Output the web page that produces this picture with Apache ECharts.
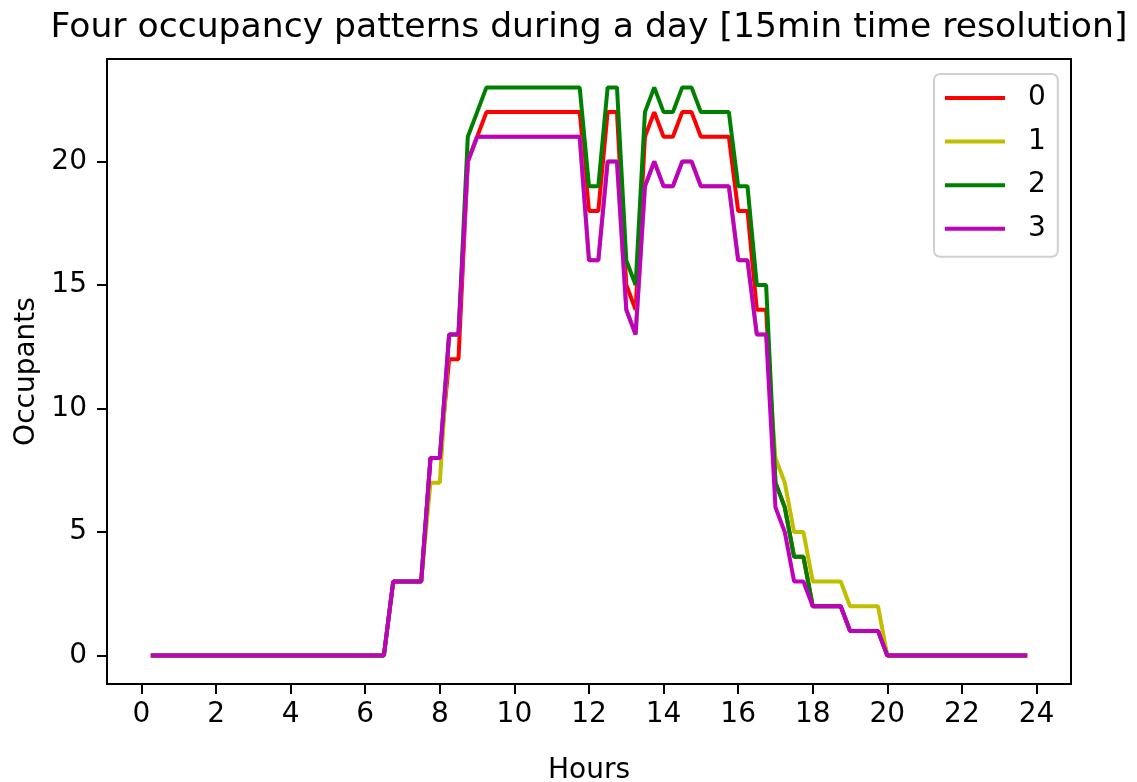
<!DOCTYPE html>
<html><head><meta charset="utf-8">
<script src="https://cdn.jsdelivr.net/npm/echarts@6/dist/echarts.min.js"></script>
<style>html,body{margin:0;padding:0;background:#fff}#c{width:1137px;height:782px}</style>
</head><body><div id="c"></div>
<script>
const TITLE = 'Four occupancy patterns during a day [15min time resolution]';
const X_NAME = 'Hours';
const Y_NAME = 'Occupants';
const SERIES_NAMES = ['0', '1', '2', '3'];
const SERIES_COLORS = ['#ff0000', '#bfbf00', '#008000', '#bf00bf'];
const X_TICKS = [0, 2, 4, 6, 8, 10, 12, 14, 16, 18, 20, 22, 24];
const Y_TICKS = [0, 5, 10, 15, 20];

const HOURS = [
  0.25, 0.5, 0.75, 1, 1.25, 1.5, 1.75, 2, 2.25, 2.5, 2.75, 3,
  3.25, 3.5, 3.75, 4, 4.25, 4.5, 4.75, 5, 5.25, 5.5, 5.75, 6,
  6.25, 6.5, 6.75, 7, 7.25, 7.5, 7.75, 8, 8.25, 8.5, 8.75, 9,
  9.25, 9.5, 9.75, 10, 10.25, 10.5, 10.75, 11, 11.25, 11.5, 11.75, 12,
  12.25, 12.5, 12.75, 13, 13.25, 13.5, 13.75, 14, 14.25, 14.5, 14.75, 15,
  15.25, 15.5, 15.75, 16, 16.25, 16.5, 16.75, 17, 17.25, 17.5, 17.75, 18,
  18.25, 18.5, 18.75, 19, 19.25, 19.5, 19.75, 20, 20.25, 20.5, 20.75, 21,
  21.25, 21.5, 21.75, 22, 22.25, 22.5, 22.75, 23, 23.25, 23.5, 23.75
];

const OCC_0 = [
  0,0,0,0, 0,0,0,0, 0,0,0,0, 0,0,0,0, 0,0,0,0, 0,0,0,0,
  0,0,3,3, 3,3,8,8, 12,12,20,21, 22,22,22,22, 22,22,22,22, 22,22,22,18,
  18,22,22,15, 14,21,22,21, 21,22,22,21, 21,21,21,18, 18,14,14,7, 6,4,4,2,
  2,2,2,1, 1,1,1,0, 0,0,0,0, 0,0,0,0, 0,0,0,0, 0,0,0
];
const OCC_1 = [
  0,0,0,0, 0,0,0,0, 0,0,0,0, 0,0,0,0, 0,0,0,0, 0,0,0,0,
  0,0,3,3, 3,3,7,7, 13,13,20,21, 21,21,21,21, 21,21,21,21, 21,21,21,16,
  16,20,20,14, 13,19,20,19, 19,20,20,19, 19,19,19,16, 16,13,13,8, 7,5,5,3,
  3,3,3,2, 2,2,2,0, 0,0,0,0, 0,0,0,0, 0,0,0,0, 0,0,0
];
const OCC_2 = [
  0,0,0,0, 0,0,0,0, 0,0,0,0, 0,0,0,0, 0,0,0,0, 0,0,0,0,
  0,0,3,3, 3,3,8,8, 13,13,21,22, 23,23,23,23, 23,23,23,23, 23,23,23,19,
  19,23,23,16, 15,22,23,22, 22,23,23,22, 22,22,22,19, 19,15,15,7, 6,4,4,2,
  2,2,2,1, 1,1,1,0, 0,0,0,0, 0,0,0,0, 0,0,0,0, 0,0,0
];
const OCC_3 = [
  0,0,0,0, 0,0,0,0, 0,0,0,0, 0,0,0,0, 0,0,0,0, 0,0,0,0,
  0,0,3,3, 3,3,8,8, 13,13,20,21, 21,21,21,21, 21,21,21,21, 21,21,21,16,
  16,20,20,14, 13,19,20,19, 19,20,20,19, 19,19,19,16, 16,13,13,6, 5,3,3,2,
  2,2,2,1, 1,1,1,0, 0,0,0,0, 0,0,0,0, 0,0,0,0, 0,0,0
];
const OCCUPANCY = [OCC_0, OCC_1, OCC_2, OCC_3];

const FONT = 'DejaVu Sans';
const chart = echarts.init(document.getElementById('c'), null, {renderer: 'canvas'});
const option = {
  animation: false,
  backgroundColor: '#ffffff',
  title: {
    text: TITLE, left: 589, top: 11, textAlign: 'center', padding: 0,
    textStyle: {fontSize: 34.6, fontWeight: 'normal', fontFamily: FONT, color: '#000'}
  },
  grid: {left: 107, right: 66, top: 59, bottom: 98, outerBoundsMode: 'none', containLabel: false,
    show: true, borderColor: '#000', borderWidth: 2, backgroundColor: '#fff'},
  legend: {
    orient: 'vertical', left: 934, top: 74,
    padding: [10, 12, 14, 11], itemGap: 15.6, itemWidth: 60, itemHeight: 4, icon: 'rect',
    borderColor: '#d0d0d0', borderWidth: 2, borderRadius: 6, backgroundColor: '#fff',
    textStyle: {fontSize: 28, fontFamily: FONT, color: '#000', padding: [0, 0, 0, 18]},
    data: SERIES_NAMES
  },
  xAxis: {
    type: 'value', min: -0.925, max: 24.925,
    name: X_NAME, nameLocation: 'middle', nameGap: 73,
    nameTextStyle: {fontSize: 28, fontFamily: FONT, color: '#000'},
    axisLine: {show: true, onZero: false, lineStyle: {color: '#000', width: 2}},
    axisTick: {show: true, inside: false, length: 10, lineStyle: {color: '#000', width: 2}, customValues: X_TICKS},
    axisLabel: {fontSize: 28, fontFamily: FONT, color: '#000', margin: 17, customValues: X_TICKS},
    splitLine: {show: false}
  },
  yAxis: {
    type: 'value', min: -1.15, max: 24.15,
    name: Y_NAME, nameLocation: 'middle', nameGap: 66,
    nameTextStyle: {fontSize: 28, fontFamily: FONT, color: '#000'},
    axisLine: {show: true, onZero: false, lineStyle: {color: '#000', width: 2}},
    axisTick: {show: true, inside: false, length: 10, lineStyle: {color: '#000', width: 2}, customValues: Y_TICKS},
    axisLabel: {fontSize: 28, fontFamily: FONT, color: '#000', margin: 20, customValues: Y_TICKS},
    splitLine: {show: false}
  },
  series: SERIES_NAMES.map((name, s) => ({
    name: name, type: 'line', symbol: 'none', showSymbol: false,
    color: SERIES_COLORS[s],
    itemStyle: {color: SERIES_COLORS[s]},
    lineStyle: {color: SERIES_COLORS[s], width: 4},
    data: HOURS.map((h, i) => [h, OCCUPANCY[s][i]])
  }))
};
chart.setOption(option);
</script>
</body></html>
